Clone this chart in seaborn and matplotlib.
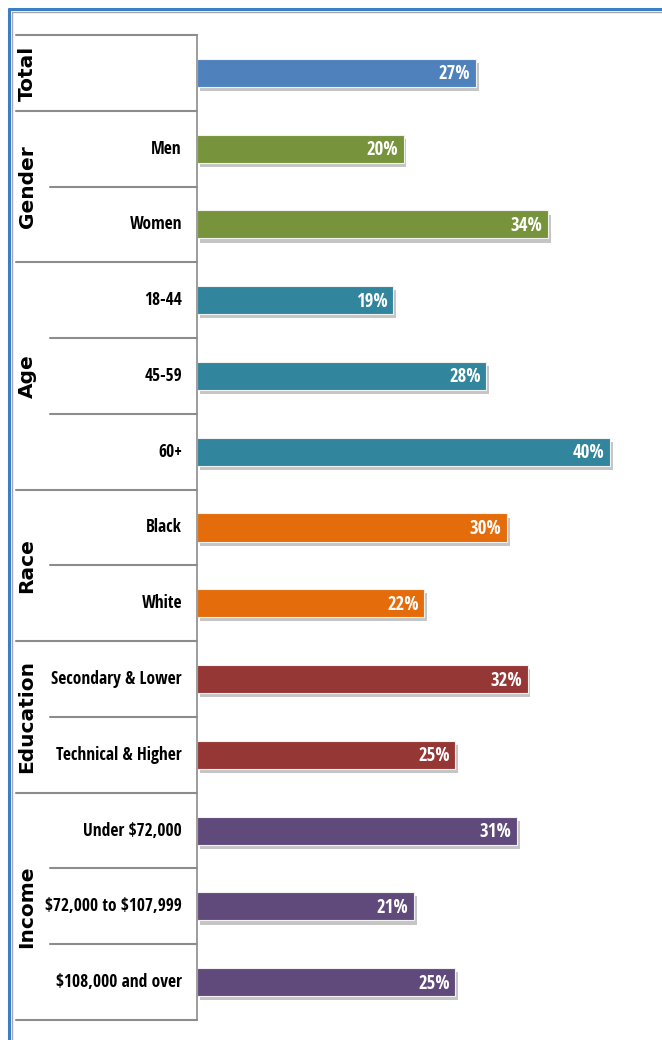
import matplotlib
matplotlib.use("Agg")
import matplotlib.pyplot as plt
import matplotlib.patheffects as pe
from matplotlib.lines import Line2D
import seaborn as sns
import pandas as pd

# Data
groups = ["Total", "Gender", "Gender", "Age", "Age", "Age", "Race", "Race",
          "Education", "Education", "Income", "Income", "Income"]
labels = ["", "Men", "Women", "18-44", "45-59", "60+", "Black", "White",
          "Secondary & Lower", "Technical & Higher", "Under $72,000",
          "$72,000 to $107,999", "$108,000 and over"]
values = [27, 20, 34, 19, 28, 40, 30, 22, 32, 25, 31, 21, 25]

group_names = ["Total", "Gender", "Age", "Race", "Education", "Income"]
group_colors = ["#4F81BD", "#77933C", "#31859C", "#E46C0A", "#953735", "#604A7B"]

df = pd.DataFrame({"row": [f"r{i}" for i in range(len(labels))],
                   "label": labels, "group": groups, "value": values})

sns.set_style("white")
narrow = ["Open Sans Condensed", "DejaVu Sans"]

W, H = 662, 1040
fig = plt.figure(figsize=(W / 100, H / 100), dpi=100)
x0, x1, ytop, ybot = 197, 662, 35, 1020
ax = fig.add_axes([x0 / W, 1 - ybot / H, (x1 - x0) / W, (ybot - ytop) / H])

sns.barplot(data=df, y="row", x="value", hue="group", hue_order=group_names,
            palette=group_colors, saturation=1, dodge=False, width=0.37, orient="h",
            edgecolor="#F2F2F2", linewidth=0.8, legend=False, ax=ax)

for bar in ax.patches:
    bar.set_path_effects([pe.SimplePatchShadow(offset=(2, -3), shadow_rgbFace="#808080", alpha=0.45),
                          pe.Normal()])

ax.set_xlim(0, 45)
ax.set_ylim(len(labels) - 0.5, -0.5)
ax.set_xlabel("")
ax.set_ylabel("")
ax.set_xticks([])
ax.set_yticks([])
for s in ["top", "right", "bottom"]:
    ax.spines[s].set_visible(False)
ax.spines["left"].set_color("#8C8C8C")
ax.spines["left"].set_linewidth(1.2)

# value labels inside bar ends
for i, v in enumerate(values):
    ax.text(v - 0.55, i + 0.02, f"{v}%", ha="right", va="center", color="white",
            fontsize=13.5, fontweight="bold", family=narrow)

# category labels
lab_x = -15 / (x1 - x0)
tr = ax.get_yaxis_transform()
for i, lab in enumerate(labels):
    ax.text(lab_x, i, lab, transform=tr, ha="right", va="center", parse_math=False,
            fontsize=12.5, fontweight="bold", family=narrow, color="black")

# group labels and table lines
grp_x = (16 - x0) / (x1 - x0)
inner_x = (50 - x0) / (x1 - x0)
gtext_x = (27 - x0) / (x1 - x0)
start = 0
for g in group_names:
    n = groups.count(g)
    ax.plot([grp_x, 0], [start - 0.5, start - 0.5], transform=tr, color="#8C8C8C",
            lw=1.5, clip_on=False)
    for k in range(1, n):
        ax.plot([inner_x, 0], [start + k - 0.5, start + k - 0.5], transform=tr,
                color="#8C8C8C", lw=1.5, clip_on=False)
    ax.text(gtext_x, start + (n - 1) / 2, g, transform=tr, rotation=90, ha="center",
            va="center", fontsize=14.5, fontweight="bold", family="DejaVu Sans",
            color="black")
    start += n
ax.plot([grp_x, 0], [start - 0.5, start - 0.5], transform=tr, color="#8C8C8C",
        lw=1.5, clip_on=False)

# outer frame (blue border with gray inner line)
fig.add_artist(Line2D([9 / W, 9 / W], [0, 1 - 9 / H], color="#3A7DC9", lw=2.2,
                      transform=fig.transFigure))
fig.add_artist(Line2D([9 / W, 1], [1 - 9 / H, 1 - 9 / H], color="#3A7DC9", lw=2.2,
                      transform=fig.transFigure))
fig.add_artist(Line2D([12 / W, 12 / W], [0, 1 - 12 / H], color="#A6A6A6", lw=1.0,
                      transform=fig.transFigure))
fig.add_artist(Line2D([12 / W, 1], [1 - 12 / H, 1 - 12 / H], color="#A6A6A6", lw=1.0,
                      transform=fig.transFigure))

fig.savefig("out.png", dpi=100)
